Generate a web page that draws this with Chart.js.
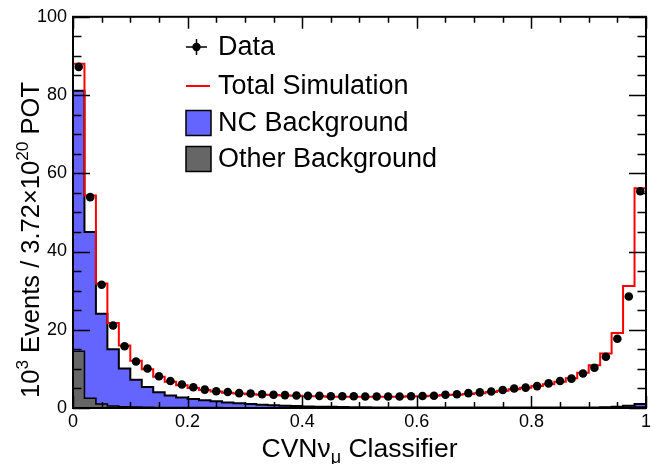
<!DOCTYPE html>
<html><head><meta charset="utf-8">
<script src="https://cdn.jsdelivr.net/npm/chart.js@4/dist/chart.umd.min.js"></script>
<style>html,body{margin:0;padding:0;background:#fff;} #wrap{width:654px;height:464px;position:relative;}</style>
</head><body><div id="wrap"><canvas id="c" width="654" height="464"></canvas></div>
<script>
// 50 bins of width 0.02 on CVN numu classifier [0,1]
const binWidth = 0.02;
const dataValues = [87.2,53.9,31.5,21.1,15.8,11.9,10.1,8.1,6.9,6.0,
  5.3,4.7,4.3,4.1,3.8,3.7,3.5,3.4,3.3,3.2,
  3.1,3.1,3.0,3.0,3.0,2.95,2.95,2.95,2.95,3.0,
  3.05,3.15,3.4,3.5,3.8,4.0,4.2,4.6,5.0,5.2,
  5.6,6.3,6.9,7.5,8.8,10.3,13.1,17.7,28.5,55.4];
const totalSim = [88.0,54.3,31.8,21.7,16.0,12.1,9.9,8.0,6.7,5.8,
  5.1,4.6,4.2,3.9,3.7,3.5,3.4,3.3,3.2,3.1,
  3.0,3.0,2.9,2.9,2.9,2.9,2.9,2.9,2.9,3.0,
  3.0,3.1,3.3,3.4,3.6,3.8,4.1,4.4,4.8,5.2,
  5.6,6.1,6.7,7.6,9.0,10.9,13.9,19.2,31.2,56.2];
const ncBackground = [66.6,42.5,23.1,14.5,9.75,6.95,5.2,3.85,3.08,2.6,
  2.2,1.9,1.6,1.32,1.12,0.92,0.77,0.63,0.53,0.43,
  0.33,0.28,0.23,0.18,0.13,0.11,0.08,0.06,0.05,0.04,
  0.03,0.03,0.03,0.03,0.03,0.03,0.03,0.03,0.03,0.03,
  0.03,0.03,0.03,0.04,0.05,0.07,0.1,0.2,0.45,0.75];
const otherBackground = [14.5,2.5,1.0,0.5,0.35,0.25,0.2,0.15,0.12,0.1,
  0.1,0.1,0.1,0.08,0.08,0.08,0.08,0.07,0.07,0.07,
  0.07,0.07,0.07,0.07,0.07,0.07,0.07,0.07,0.07,0.07,
  0.07,0.07,0.07,0.07,0.07,0.07,0.07,0.07,0.07,0.07,
  0.07,0.07,0.07,0.07,0.08,0.08,0.1,0.1,0.15,0.25];
const xTickStep = 0.2, xMinorStep = 0.05;
const yTickStep = 20, yMinorStep = 5;
const legendLabels = ['Data','Total Simulation','NC Background','Other Background'];
const colNC = '#6464ff', colOther = '#666666', colTotal = '#ff0000';
const FONT = '"Liberation Sans", Arial, Helvetica, sans-serif';

// histogram outline: one vertex per bin at its upper edge; with stepped:'after'
// the line rises at the low edge and is held flat across the bin
function histPoints(vals){
  const pts=[{x:0,y:0}];
  vals.forEach((v,i)=>pts.push({x:(i+1)*binWidth,y:v}));
  pts.push({x:vals.length*binWidth,y:0});
  return pts;
}
const ncStack = ncBackground.map((v,i)=>v+otherBackground[i]);

const overlay = {
  id:'overlay',
  afterDraw(chart){
    const ctx=chart.ctx, a=chart.chartArea, xs=chart.scales.x, ys=chart.scales.y;
    ctx.save();
    ctx.strokeStyle='#000'; ctx.lineWidth=1.5;
    for(let k=0;k<=Math.round(1/xMinorStep);k++){
      const v=k*xMinorStep, px=Math.round(xs.getPixelForValue(v))+0.5;
      const L = (k%4===0)?12:6;
      ctx.beginPath(); ctx.moveTo(px,a.bottom); ctx.lineTo(px,a.bottom-L);
      ctx.moveTo(px,a.top); ctx.lineTo(px,a.top+L); ctx.stroke();
    }
    for(let k=0;k<=Math.round(100/yMinorStep);k++){
      const v=k*yMinorStep, py=Math.round(ys.getPixelForValue(v))+0.5;
      const L = (k%4===0)?17:8.5;
      ctx.beginPath(); ctx.moveTo(a.left,py); ctx.lineTo(a.left+L,py);
      ctx.moveTo(a.right,py); ctx.lineTo(a.right-L,py); ctx.stroke();
    }
    ctx.lineWidth=2;
    ctx.strokeRect(a.left,a.top,a.right-a.left,a.bottom-a.top);

    // legend
    const lx=186, tx=218, rows=[47,86,123,159];
    ctx.font='27px '+FONT; ctx.fillStyle='#000'; ctx.textBaseline='middle'; ctx.textAlign='left';
    ctx.lineWidth=1.5; ctx.strokeStyle='#000';
    ctx.beginPath(); ctx.moveTo(lx,rows[0]); ctx.lineTo(lx+21,rows[0]);
    ctx.moveTo(lx+10.5,rows[0]-8); ctx.lineTo(lx+10.5,rows[0]+8); ctx.stroke();
    ctx.beginPath(); ctx.arc(lx+10.5,rows[0],4.2,0,Math.PI*2); ctx.fill();
    ctx.strokeStyle=colTotal; ctx.lineWidth=2;
    ctx.beginPath(); ctx.moveTo(lx,rows[1]); ctx.lineTo(lx+24,rows[1]); ctx.stroke();
    ctx.strokeStyle='#000'; ctx.lineWidth=1.5;
    ctx.fillStyle=colNC; ctx.fillRect(lx,rows[2]-12.5,25,25); ctx.strokeRect(lx,rows[2]-12.5,25,25);
    ctx.fillStyle=colOther; ctx.fillRect(lx,rows[3]-12.5,25,25); ctx.strokeRect(lx,rows[3]-12.5,25,25);
    ctx.fillStyle='#000';
    legendLabels.forEach((t,i)=>ctx.fillText(t,tx,rows[i]+1));

    function drawPieces(pieces, size){
      let total=0;
      pieces.forEach(p=>{ ctx.font=(p.k? size*0.68:size)+'px '+FONT; p.w=ctx.measureText(p.t).width; total+=p.w; });
      let x=-total/2;
      pieces.forEach(p=>{
        ctx.font=(p.k? size*0.68:size)+'px '+FONT;
        const dy = p.k==='sup' ? -size*0.42 : (p.k==='sub' ? size*0.22 : 0);
        ctx.fillText(p.t,x,dy); x+=p.w;
      });
    }
    ctx.textBaseline='alphabetic'; ctx.textAlign='left';
    ctx.save(); ctx.translate((a.left+a.right)/2, 457);
    drawPieces([{t:'CVN\u03BD'},{t:'\u03BC',k:'sub'},{t:' Classifier'}],26.5);
    ctx.restore();
    ctx.save(); ctx.translate(39, 240); ctx.rotate(-Math.PI/2);
    drawPieces([{t:'10'},{t:'3',k:'sup'},{t:' Events / 3.72\u00D710'},{t:'20',k:'sup'},{t:' POT'}],25.5);
    ctx.restore();
    ctx.restore();
  }
};

new Chart(document.getElementById('c'),{
  type:'line',
  data:{datasets:[
    {label:'Data',type:'scatter',data:dataValues.map((v,i)=>({x:(i+0.5)*binWidth,y:v})),
     pointRadius:4.3,pointBackgroundColor:'#000',pointBorderColor:'#000',pointBorderWidth:0,showLine:false,order:0},
    {label:'Total Simulation',data:histPoints(totalSim),stepped:'after',borderColor:colTotal,borderWidth:2,
     pointRadius:0,fill:false,order:1},
    {label:'Other Background',data:histPoints(otherBackground),stepped:'after',borderColor:'#000',borderWidth:1.5,
     backgroundColor:colOther,pointRadius:0,fill:'origin',order:2},
    {label:'NC Background',data:histPoints(ncStack),stepped:'after',borderColor:'#000',borderWidth:2,
     backgroundColor:colNC,pointRadius:0,fill:'origin',order:3}
  ]},
  options:{
    responsive:false, animation:false, devicePixelRatio:1,
    layout:{padding:{left:0,right:5,top:15,bottom:0}},
    plugins:{legend:{display:false},tooltip:{enabled:false}},
    scales:{
      x:{type:'linear',min:0,max:1,
        ticks:{stepSize:xTickStep,color:'#000',font:{family:FONT,size:18},padding:3,maxRotation:0,
          callback:(v)=>String(Number(v.toFixed(2)))},
        grid:{display:false,drawTicks:false},border:{display:false},
        afterFit(s){s.height=56;}},
      y:{type:'linear',min:0,max:100,
        ticks:{stepSize:yTickStep,color:'#000',font:{family:FONT,size:18},padding:6},
        grid:{display:false,drawTicks:false},border:{display:false},
        afterFit(s){s.width=73;}}
    }
  },
  plugins:[overlay]
});
</script></body></html>
